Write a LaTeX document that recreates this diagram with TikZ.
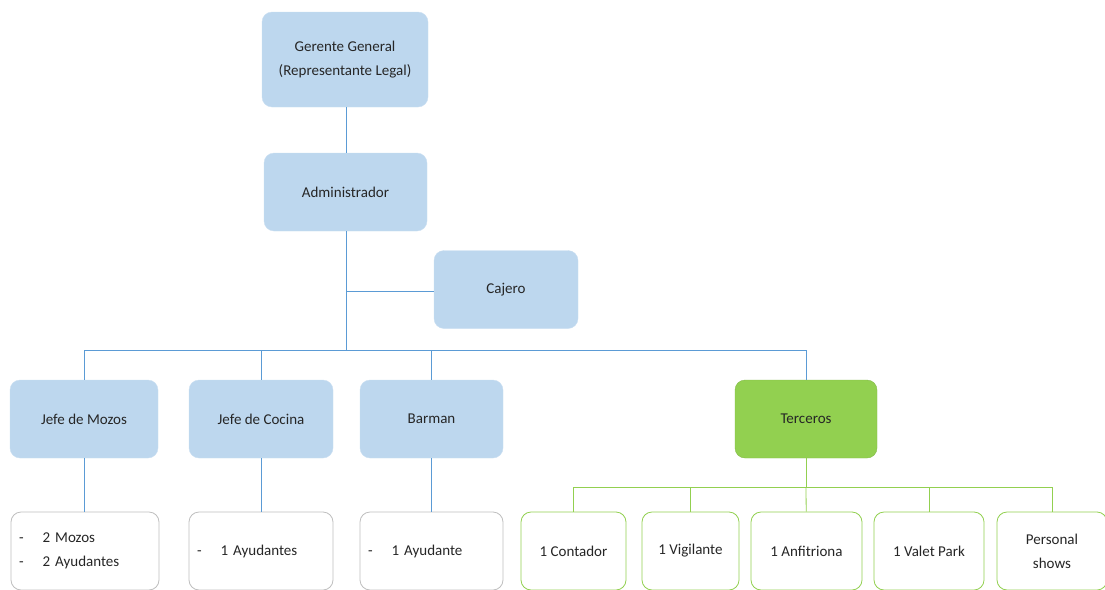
\documentclass[tikz,border=0pt]{standalone}
\usepackage{fontspec}
\setmainfont{Carlito}
\usepackage{tikz}
\usetikzlibrary{positioning}
\usepackage{xcolor}
\definecolor{boxblue}{RGB}{189,215,238}
\definecolor{lineblue}{RGB}{91,155,213}
\definecolor{leafgreen}{RGB}{146,208,80}
\definecolor{txtgray}{RGB}{38,38,38}

\begin{document}
\begin{tikzpicture}[x=1pt, y=-1pt,
  every node/.style={font=\fontsize{15}{24}\selectfont, text=txtgray},
  mgr/.style={rectangle, rounded corners=10pt, fill=boxblue, draw=boxblue!80!white, align=center, minimum width=144pt, minimum height=78pt},
  third/.style={mgr, fill=leafgreen, draw=leafgreen!90!black, minimum width=142pt},
  staff/.style={rectangle, rounded corners=10pt, draw=black!25, fill=white, thick, align=left, minimum height=78pt, inner xsep=8pt},
  ext/.style={rectangle, rounded corners=10pt, draw=leafgreen, fill=white, thick, align=center, minimum height=78pt},
  bline/.style={draw=lineblue, thick},
  gline/.style={draw=leafgreen, thick}
]
  \useasboundingbox (0,0) rectangle (1105,589);

  % Direccion
  \node[mgr, minimum width=166pt, minimum height=95pt] (ger) at (345,59.5) {Gerente General\\(Representante Legal)};
  \node[mgr, minimum width=163pt] (adm) at (345.5,192) {Administrador};
  \node[mgr] (caj) at (506,289.5) {Cajero};

  % Jefaturas
  \node[mgr, minimum width=148pt] (mozos) at (84,419) {Jefe de Mozos};
  \node[mgr] (cocina) at (261,419) {Jefe de Cocina};
  \node[mgr, minimum width=143pt] (barman) at (431.5,419) {Barman};
  \node[third] (terc) at (806,419) {Terceros};

  % Personal a cargo
  \node[staff, text width=132pt] (pmozos) at (85,551) {-\hspace{19pt}2 Mozos\\-\hspace{19pt}2 Ayudantes};
  \node[staff, text width=128pt] (pcocina) at (261,551) {-\hspace{19pt}1 Ayudantes};
  \node[staff, text width=127pt] (pbarman) at (431.5,551) {-\hspace{19pt}1 Ayudante};

  % Servicios de terceros
  \node[ext, minimum width=105pt] (cont) at (573.5,551) {1 Contador};
  \node[ext, minimum width=97pt] (vig) at (690.5,551) {1 Vigilante};
  \node[ext, minimum width=111pt] (anf) at (806.5,551) {1 Anfitriona};
  \node[ext, minimum width=110pt] (valet) at (929,551) {1 Valet Park};
  \node[ext, minimum width=110pt] (shows) at (1052,551) {Personal\\shows};

  % Lineas de mando
  \coordinate (bus) at (346,350);
  \coordinate (cajj) at (346,291);
  \coordinate (gbus) at (806,487);
  \draw[bline] (ger.south -| bus) -- (adm.north -| bus);
  \draw[bline] (adm.south -| bus) -- (bus);
  \draw[bline] (cajj) -- (caj.west |- cajj);
  \draw[bline] (bus) -| (mozos);
  \draw[bline] (bus) -| (cocina);
  \draw[bline] (bus) -| (barman);
  \draw[bline] (bus) -| (terc);
  \draw[bline] (mozos) -- (mozos |- pmozos.north);
  \draw[bline] (cocina) -- (pcocina);
  \draw[bline] (barman) -- (pbarman);

  \draw[gline] (terc) -- (gbus);
  \draw[gline] (gbus) -| (cont);
  \draw[gline] (gbus) -| (vig);
  \draw[gline] (gbus) -- (anf);
  \draw[gline] (gbus) -| (valet);
  \draw[gline] (gbus) -| (shows);
\end{tikzpicture}
\end{document}
